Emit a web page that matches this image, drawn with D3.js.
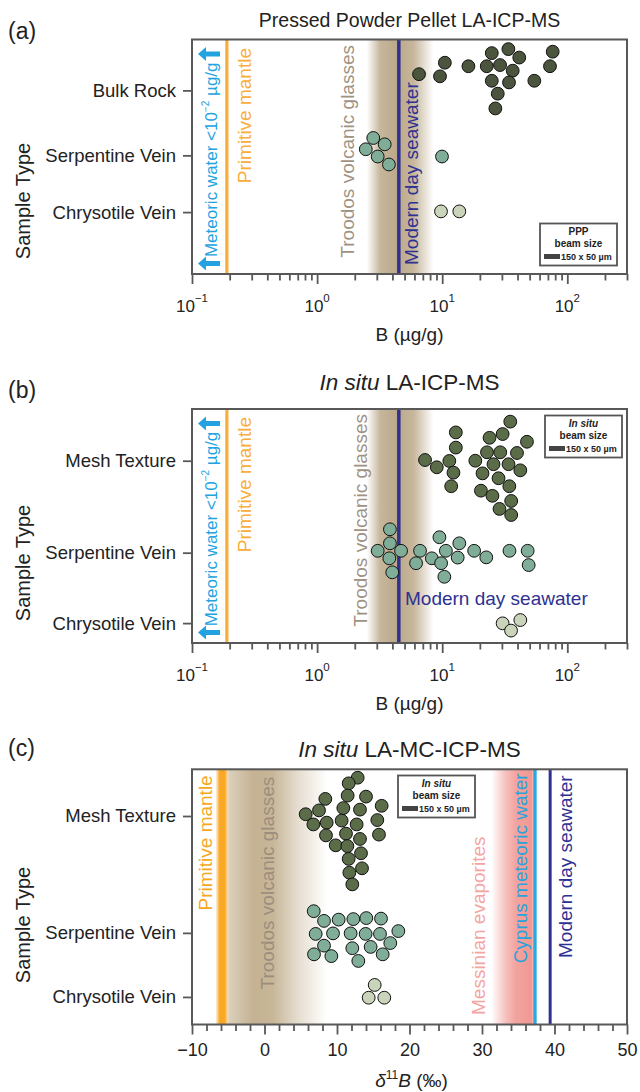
<!DOCTYPE html>
<html><head><meta charset="utf-8">
<script src="https://cdn.jsdelivr.net/npm/d3@7"></script>
<style>
body{margin:0;background:#fff;}
svg{display:block;font-family:"Liberation Sans",Arial,Helvetica,sans-serif;}
</style>
</head><body>
<svg id="chart" width="640" height="1092"></svg>
<script>
// ---------------- DATA ----------------
// Panel (a): Pressed Powder Pellet LA-ICP-MS, B (µg/g); rows in 0-100 plot units (bottom=0, top=100)
const categoriesA = ["Bulk Rock", "Serpentine Vein", "Chrysotile Vein"];
const categoryRowA = [78.3, 50.6, 26.4];
const bulkRockB   = [6.53, 10.5, 9.6, 16.2, 22.7, 24.9, 33.8, 41.3, 29.0, 36.6, 24.9, 34.2, 27.8, 26.6, 54.5, 76.4, 72.7];
const bulkRockRow = [85.2, 90.1, 84.3, 88.6, 88.6, 94.2, 95.9, 92.3, 89.1, 86.7, 82.4, 81.7, 76.9, 70.6, 82.4, 94.8, 88.6];
const serpA_B     = [2.81, 3.47, 2.45, 3.05, 3.75, 9.96];
const serpA_Row   = [58.0, 55.3, 53.2, 50.1, 46.7, 50.1];
const chrysA_B    = [9.78, 13.7];
const chrysA_Row  = [26.7, 26.7];

// Panel (b): In situ LA-ICP-MS, B (µg/g)
const categoriesB = ["Mesh Texture", "Serpentine Vein", "Chrysotile Vein"];
const categoryRowB = [77.9, 38.6, 8.5];
const meshB_B   = [12.85, 35.0, 30.4, 23.9, 47.6, 12.85, 22.8, 29.1, 39.6, 7.29, 11.4, 18.4, 25.7, 33.9, 9.05, 42.1, 12.3, 21.0, 28.2, 11.8, 34.4, 20.4, 25.2, 35.6, 28.7, 35.6];
const meshB_Row = [90.0, 94.6, 89.3, 87.7, 86.0, 83.5, 81.5, 81.5, 81.2, 78.2, 77.8, 77.9, 76.4, 76.4, 75.1, 73.8, 72.8, 72.5, 70.4, 67.0, 67.0, 65.1, 62.9, 60.7, 57.3, 54.7];
const serpB_B   = [3.82, 3.82, 3.05, 4.69, 3.78, 3.99, 6.65, 6.18, 8.26, 9.50, 10.7, 9.80, 10.4, 13.7, 13.3, 18.0, 22.5, 34.5, 48.2, 49.1];
const serpB_Row = [48.6, 42.6, 39.4, 39.4, 36.2, 30.2, 39.4, 34.1, 36.2, 45.2, 39.4, 34.1, 28.3, 42.6, 36.5, 39.4, 36.6, 39.4, 39.4, 33.3];
const chrysB_B   = [30.4, 42.1, 35.5];
const chrysB_Row = [8.4, 9.8, 5.3];

// Panel (c): In situ LA-MC-ICP-MS, δ11B (‰)
const categoriesC = ["Mesh Texture", "Serpentine Vein", "Chrysotile Vein"];
const categoryRowC = [81.7, 35.9, 10.8];
const meshC_d   = [12.85, 11.61, 8.39, 11.47, 14.0, 16.16, 5.68, 7.52, 10.87, 13.17, 6.74, 8.58, 10.64, 12.71, 15.56, 8.48, 11.24, 13.17, 15.79, 9.82, 11.43, 13.31, 11.61, 13.45, 11.70, 12.11];
const meshC_Row = [96.7, 94.5, 88.4, 89.7, 89.3, 85.7, 82.4, 83.9, 84.8, 84.2, 78.4, 79.1, 79.9, 78.4, 80.1, 74.1, 74.8, 72.7, 74.4, 70.2, 69.9, 67.1, 64.9, 61.2, 59.5, 54.9];
const serpC_d   = [6.79, 8.21, 10.23, 12.25, 14.04, 16.07, 7.06, 9.45, 11.88, 13.95, 15.93, 18.46, 8.21, 12.11, 14.64, 17.35, 6.83, 9.22, 12.94, 16.30];
const serpC_Row = [44.4, 40.6, 41.1, 41.3, 41.7, 41.5, 35.5, 35.7, 35.7, 35.5, 35.5, 36.6, 30.9, 29.9, 30.4, 31.9, 27.5, 26.8, 24.9, 27.5];
const chrysC_d   = [15.2, 14.37, 16.52];
const chrysC_Row = [15.5, 10.5, 10.5];

// Reference values
const primitiveMantleB = 0.19;
const seawaterB = 4.5;
const troodosRangeB = [2.5, 8.5];
const primitiveMantleD = [-6.7, -5.0];
const troodosRangeD = [-5.0, 8.6];
const messinianRangeD = [31.3, 37.0];
const cyprusMeteoricD = 37.3;
const seawaterD = 39.4;

// Axis ticks
const logMajorTicks = [0.1, 1, 10, 100];
const logTickExponents = ["\u22121", "0", "1", "2"];
const deltaMajorTicks = [-10, 0, 10, 20, 30, 40, 50];

// ---------------- LAYOUT ----------------
const svg = d3.select("#chart");
const defs = svg.append("defs");
const X0 = 192, X1 = 627;
const FRAME = "#585858";
const COL_DARK_A = "#4b553e", COL_DARK = "#5a6c48", COL_SERP = "#7fad98", COL_CHRYS = "#c9d4ba";
const ORANGE = "#f9ad3a", NAVY = "#2e3192", BLUE = "#22a3df", TAN = "#bca98a";

const xLog = d3.scaleLog().domain([0.1, 300]).range([X0, X1]);
const xLin = d3.scaleLinear().domain([-10, 50]).range([X0, X1]);

const panels = {
  a: {top: 39.5, bottom: 274, label: "(a)", labelY: 38.5, titleY: 26.7, ylabY: 201},
  b: {top: 409, bottom: 643, label: "(b)", labelY: 398, titleY: 390.3, ylabY: 563},
  c: {top: 769.3, bottom: 1024.5, label: "(c)", labelY: 756, titleY: 756.7, ylabY: 925}
};
for (const k in panels) {
  const p = panels[k];
  p.y = d3.scaleLinear().domain([0, 100]).range([p.bottom, p.top]);
  p.g = svg.append("g");
}

function gradient(id, stops) {
  const lg = defs.append("linearGradient").attr("id", id).attr("x1", "0%").attr("x2", "100%").attr("y1", "0%").attr("y2", "0%");
  stops.forEach(s => lg.append("stop").attr("offset", s[0]).attr("stop-color", s[1]).attr("stop-opacity", s[2]));
}
gradient("troodosAB", [[0, TAN, 0], [0.2, TAN, 0.85], [0.45, TAN, 1], [0.7, TAN, 0.85], [1, TAN, 0]]);
gradient("troodosC", [[0, "#c4b292", 0.6], [0.25, "#c4b292", 1], [0.45, "#c4b292", 0.95], [0.7, "#c4b292", 0.45], [1, "#c4b292", 0]]);
gradient("mantleC", [[0, "#f9a825", 0.15], [0.3, "#f9a825", 1], [0.7, "#f9a825", 1], [1, "#f9a825", 0.35]]);
gradient("messinian", [[0, "#ef8c86", 0], [0.35, "#ef8c86", 0.55], [0.6, "#ef8c86", 0.8], [1, "#ef8c86", 0.9]]);

function band(p, x, range, fillId) {
  p.g.append("rect").attr("x", x(range[0])).attr("y", p.top)
    .attr("width", x(range[1]) - x(range[0])).attr("height", p.bottom - p.top)
    .attr("fill", `url(#${fillId})`);
}
function vline(p, x, v, color, w) {
  p.g.append("line").attr("x1", x(v)).attr("x2", x(v)).attr("y1", p.top).attr("y2", p.bottom)
    .attr("stroke", color).attr("stroke-width", w);
}
function vtext(p, xPix, yPix, anchor, txt, color, size) {
  return p.g.append("text").attr("transform", `translate(${xPix},${yPix}) rotate(-90)`)
    .attr("text-anchor", anchor).attr("dominant-baseline", "central")
    .attr("font-size", size || 19).attr("fill", color).text(txt);
}
function arrowLeft(p, cx, cy) {
  // left-pointing block arrow
  const path = `M${cx-11},${cy} L${cx-3},${cy-7} L${cx-3},${cy-2.4} L${cx+11},${cy-2.4} L${cx+11},${cy+2.4} L${cx-3},${cy+2.4} L${cx-3},${cy+7} Z`;
  p.g.append("path").attr("d", path).attr("fill", BLUE);
}
function meteoric(p) {
  const cy = (p.top + p.bottom) / 2 + 3;
  const t = p.g.append("text").attr("transform", `translate(211,${cy}) rotate(-90)`)
    .attr("text-anchor", "middle").attr("dominant-baseline", "central")
    .attr("font-size", 17).attr("fill", BLUE);
  t.append("tspan").text("Meteoric water <10");
  t.append("tspan").attr("font-size", 10).attr("dy", -6.5).text("\u22122");
  t.append("tspan").attr("dy", 6.5).text(" µg/g");
  arrowLeft(p, 209, p.top + 14.5);
  arrowLeft(p, 209, p.bottom - 10.5);
}
function points(p, x, xs, rows, fill) {
  p.g.append("g").selectAll("circle").data(xs.map((v, i) => [v, rows[i]])).join("circle")
    .attr("cx", d => x(d[0])).attr("cy", d => p.y(d[1])).attr("r", 6.4)
    .attr("fill", fill).attr("stroke", "#111").attr("stroke-width", 1);
}
function legend(p, x, y, first, italic) {
  const g = p.g.append("g").attr("transform", `translate(${x},${y})`);
  g.append("rect").attr("width", 77).attr("height", 42).attr("fill", "#fff").attr("stroke", "#555").attr("stroke-width", 1.8);
  g.append("text").attr("x", 38.5).attr("y", 7.5).attr("text-anchor", "middle").attr("dominant-baseline", "central")
    .attr("font-size", 10).attr("font-weight", "bold").attr("font-style", italic ? "italic" : "normal").attr("fill", "#222").text(first);
  g.append("text").attr("x", 38.5).attr("y", 20).attr("text-anchor", "middle").attr("dominant-baseline", "central")
    .attr("font-size", 10).attr("font-weight", "bold").attr("fill", "#222").text("beam size");
  g.append("rect").attr("x", 4).attr("y", 30.5).attr("width", 16).attr("height", 5).attr("fill", "#444");
  g.append("text").attr("x", 21).attr("y", 33).attr("dominant-baseline", "central")
    .attr("font-size", 9).attr("font-weight", "bold").attr("fill", "#222").text("150 x 50 µm");
}
function frameAndAxes(p, x, cats, rows, isLog) {
  p.g.append("rect").attr("x", X0).attr("y", p.top).attr("width", X1 - X0).attr("height", p.bottom - p.top)
    .attr("fill", "none").attr("stroke", FRAME).attr("stroke-width", 2);
  // y axis
  const ya = p.g.append("g").attr("transform", `translate(${X0},0)`)
    .call(d3.axisLeft(p.y).tickValues(rows).tickFormat((d, i) => cats[i]).tickSize(9).tickPadding(7));
  ya.select(".domain").remove();
  ya.selectAll("line").attr("stroke", FRAME).attr("stroke-width", 1.8);
  ya.selectAll("text").attr("font-size", 18.5).attr("fill", "#222").attr("font-family", null);
  // x axis
  if (isLog) {
    const minor = x.ticks().filter(v => !logMajorTicks.some(m => Math.abs(m - v) < 1e-9));
    const xm = p.g.append("g").attr("transform", `translate(0,${p.bottom})`)
      .call(d3.axisBottom(x).tickValues(minor).tickSize(6.5).tickFormat(""));
    xm.select(".domain").remove();
    xm.selectAll("line").attr("stroke", FRAME).attr("stroke-width", 1.8);
    const xM = p.g.append("g").attr("transform", `translate(0,${p.bottom})`)
      .call(d3.axisBottom(x).tickValues(logMajorTicks).tickSize(10).tickFormat(""));
    xM.select(".domain").remove();
    xM.selectAll("line").attr("stroke", FRAME).attr("stroke-width", 1.8);
    logMajorTicks.forEach((v, i) => {
      const t = p.g.append("text").attr("x", x(v)).attr("y", p.bottom + 37.7).attr("text-anchor", "middle")
        .attr("font-size", 17).attr("fill", "#222");
      t.append("tspan").text("10");
      t.append("tspan").attr("font-size", 11.5).attr("dy", -10).text(logTickExponents[i]);
    });
    p.g.append("text").attr("x", (X0 + X1) / 2).attr("y", p.bottom + 66.5).attr("text-anchor", "middle")
      .attr("font-size", 19).attr("fill", "#222").text("B (µg/g)");
  } else {
    const minor = d3.range(-10, 50.01, 2).filter(v => v % 10 !== 0);
    const xm = p.g.append("g").attr("transform", `translate(0,${p.bottom})`)
      .call(d3.axisBottom(x).tickValues(minor).tickSize(6.5).tickFormat(""));
    xm.select(".domain").remove();
    xm.selectAll("line").attr("stroke", FRAME).attr("stroke-width", 1.8);
    const xM = p.g.append("g").attr("transform", `translate(0,${p.bottom})`)
      .call(d3.axisBottom(x).tickValues(deltaMajorTicks).tickSize(10).tickPadding(9));
    xM.select(".domain").remove();
    xM.selectAll("line").attr("stroke", FRAME).attr("stroke-width", 1.8);
    xM.selectAll("text").attr("font-size", 18).attr("fill", "#222").attr("font-family", null);
    const t = p.g.append("text").attr("x", (X0 + X1) / 2 + 2).attr("y", p.bottom + 62).attr("text-anchor", "middle")
      .attr("font-size", 19).attr("fill", "#222");
    t.append("tspan").attr("font-style", "italic").text("δ");
    t.append("tspan").attr("font-size", 12).attr("dy", -8).text("11");
    t.append("tspan").attr("font-style", "italic").attr("dy", 8).text("B");
    t.append("tspan").text(" (‰)");
  }
  // panel label, y title
  p.g.append("text").attr("x", 8).attr("y", p.labelY).attr("font-size", 23).attr("fill", "#222").text(p.label);
  p.g.append("text").attr("transform", `translate(23,${p.ylabY}) rotate(-90)`).attr("text-anchor", "middle")
    .attr("dominant-baseline", "central").attr("font-size", 20).attr("fill", "#222").text("Sample Type");
}

// ---------------- PANEL (a) ----------------
{
  const p = panels.a;
  band(p, xLog, troodosRangeB, "troodosAB");
  vline(p, xLog, seawaterB, NAVY, 3.5);
  vline(p, xLog, primitiveMantleB, ORANGE, 3.2);
  meteoric(p);
  vtext(p, 244.5, p.top + 8.5, "end", "Primitive mantle", ORANGE);
  vtext(p, 347.5, p.top + 5.5, "end", "Troodos volcanic glasses", "#a09282");
  vtext(p, 411, p.bottom - 9, "start", "Modern day seawater", NAVY);
  points(p, xLog, bulkRockB, bulkRockRow, COL_DARK_A);
  points(p, xLog, serpA_B, serpA_Row, COL_SERP);
  points(p, xLog, chrysA_B, chrysA_Row, COL_CHRYS);
  legend(p, 540, 223.5, "PPP", false);
  frameAndAxes(p, xLog, categoriesA, categoryRowA, true);
  p.g.append("text").attr("x", (X0 + X1) / 2).attr("y", p.titleY).attr("text-anchor", "middle")
    .attr("font-size", 19.5).attr("fill", "#222").text("Pressed Powder Pellet LA-ICP-MS");
}

// ---------------- PANEL (b) ----------------
{
  const p = panels.b;
  band(p, xLog, troodosRangeB, "troodosAB");
  vline(p, xLog, seawaterB, NAVY, 3.5);
  vline(p, xLog, primitiveMantleB, ORANGE, 3.2);
  meteoric(p);
  vtext(p, 244.5, p.top + 8, "end", "Primitive mantle", ORANGE);
  vtext(p, 360.5, p.top + 5, "end", "Troodos volcanic glasses", "#a09282");
  p.g.append("text").attr("x", 405).attr("y", 598.3).attr("dominant-baseline", "central")
    .attr("font-size", 19).attr("fill", NAVY).text("Modern day seawater");
  points(p, xLog, meshB_B, meshB_Row, COL_DARK);
  points(p, xLog, serpB_B, serpB_Row, COL_SERP);
  points(p, xLog, chrysB_B, chrysB_Row, COL_CHRYS);
  legend(p, 545, 415.5, "In situ", true);
  frameAndAxes(p, xLog, categoriesB, categoryRowB, true);
  const t = p.g.append("text").attr("x", (X0 + X1) / 2).attr("y", p.titleY).attr("text-anchor", "middle")
    .attr("font-size", 22.5).attr("fill", "#222");
  t.append("tspan").attr("font-style", "italic").text("In situ");
  t.append("tspan").text(" LA-ICP-MS");
}

// ---------------- PANEL (c) ----------------
{
  const p = panels.c;
  band(p, xLin, troodosRangeD, "troodosC");
  band(p, xLin, primitiveMantleD, "mantleC");
  band(p, xLin, messinianRangeD, "messinian");
  vline(p, xLin, cyprusMeteoricD, "#27a9e1", 3.5);
  vline(p, xLin, seawaterD, NAVY, 3);
  vtext(p, 205.8, p.top + 6, "end", "Primitive mantle", "#f7a71c");
  vtext(p, 267.5, p.top + 7.5, "end", "Troodos volcanic glasses", "#9c8d7e");
  vtext(p, 478.8, p.bottom - 9.5, "start", "Messinian evaporites", "#f4a5a1");
  vtext(p, 520, p.top + 4, "end", "Cyprus meteoric water", "#27a3df");
  vtext(p, 565.7, p.top + 6, "end", "Modern day seawater", NAVY);
  points(p, xLin, meshC_d, meshC_Row, COL_DARK);
  points(p, xLin, serpC_d, serpC_Row, COL_SERP);
  points(p, xLin, chrysC_d, chrysC_Row, COL_CHRYS);
  legend(p, 398, 775.5, "In situ", true);
  frameAndAxes(p, xLin, categoriesC, categoryRowC, false);
  const t = p.g.append("text").attr("x", (X0 + X1) / 2).attr("y", p.titleY).attr("text-anchor", "middle")
    .attr("font-size", 22.5).attr("fill", "#222");
  t.append("tspan").attr("font-style", "italic").text("In situ");
  t.append("tspan").text(" LA-MC-ICP-MS");
}
</script>
</body></html>
